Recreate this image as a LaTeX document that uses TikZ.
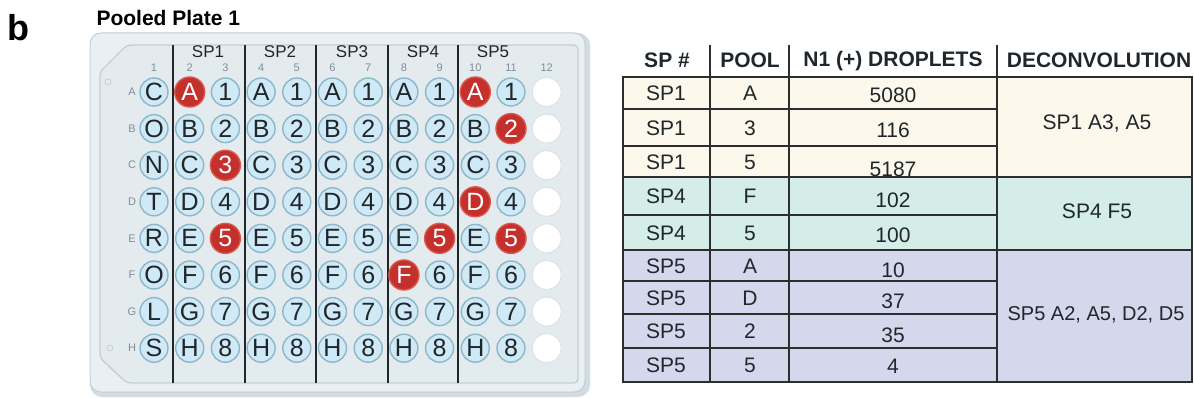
\documentclass[tikz,border=0pt]{standalone}
\usepackage{fontspec}
\setmainfont{Liberation Sans}
\usetikzlibrary{positioning}

\definecolor{wellblue}{HTML}{CFE9F6}
\definecolor{wellrim}{HTML}{8DB7C9}
\definecolor{hitred}{HTML}{C4302B}
\definecolor{hitrim}{HTML}{D9574C}
\definecolor{platefill}{HTML}{E9EFF2}
\definecolor{plateedge}{HTML}{C3CFD6}
\definecolor{plateshade}{HTML}{D2DDE3}
\definecolor{framefill}{HTML}{E4EBEF}
\definecolor{labgray}{HTML}{7F8E96}
\definecolor{inkdark}{HTML}{1F272B}
\definecolor{spone}{HTML}{FCF8EC}
\definecolor{spfour}{HTML}{D4EDE8}
\definecolor{spfive}{HTML}{D3D8EC}
\definecolor{gridline}{HTML}{2E2E2E}

\begin{document}
\begin{tikzpicture}[
    x=1pt, y=-1pt,
    well/.style={circle, draw=wellrim, line width=1.4pt, fill=wellblue, minimum size=28pt, inner sep=0pt, text=inkdark, font=\fontsize{25}{25}\selectfont},
    hitwell/.style={draw=hitrim, fill=hitred, text=white, minimum size=30pt},
    emptywell/.style={circle, draw=plateedge!60, line width=1pt, fill=white, minimum size=29pt, inner sep=0pt},
    collab/.style={text=labgray, font=\fontsize{11}{11}\selectfont},
    rowlab/.style={text=labgray, font=\fontsize{11}{11}\selectfont},
    splab/.style={text=inkdark, font=\fontsize{17}{17}\selectfont},
    divider/.style={draw=inkdark, line width=1.6pt},
    head/.style={text=inkdark, font=\bfseries\fontsize{21}{21}\selectfont},
    cell/.style={text=inkdark, font=\fontsize{21}{21}\selectfont},
    grid/.style={draw=gridline, line width=2pt},
    % wells that came up positive
    hitA2/.style={hitwell}, hitC3/.style={hitwell}, hitE3/.style={hitwell},
    hitA10/.style={hitwell}, hitB11/.style={hitwell}, hitD10/.style={hitwell},
    hitE9/.style={hitwell}, hitE11/.style={hitwell}, hitF8/.style={hitwell}
]
    \useasboundingbox (0,0) rectangle (1194,398);

    % Titles
    \node[font=\bfseries\fontsize{36}{36}\selectfont] (panel) at (18,28) {b};
    \node[font=\bfseries\fontsize{21}{21}\selectfont, anchor=west] (title) at (93,18) {Pooled Plate 1};

    % Plate body
    \fill[plateshade, rounded corners=12] (90,33) rectangle (590,397);
    \draw[plateedge, fill=platefill, line width=1pt, rounded corners=11] (90,33) rectangle (585,392);
    \draw[plateedge, fill=framefill, line width=1.4pt, rounded corners=4]
        (127,45) -- (578,45) -- (578,383) -- (127,383) -- (100,358) -- (100,72) -- cycle;
    \draw[plateedge, line width=0.8pt] (108,82) circle (3) (110,348) circle (3);

    % Dividers between sub-pools
    \foreach \x in {173,245,316,388,458}
        \draw[divider] (\x,45) -- (\x,383);

    % Column labels
    \foreach \i/\x in {1/208,2/280,3/352,4/423,5/493}
        \node[splab] (sp\i) at (\x,52) {SP\i};
    \foreach \c in {1,...,12}
        \node[collab] (col\c) at ({154+(\c-1)*35.7},68) {\c};

    % Wells
    \foreach \r/\rl/\cl in {1/A/C,2/B/O,3/C/N,4/D/T,5/E/R,6/F/O,7/G/L,8/H/S}{
        \node[rowlab] (row\rl) at (132,{92+(\r-1)*36.6}) {\rl};
        \node[well] (w\rl1) at (154,{92+(\r-1)*36.6}) {\cl};
        \foreach \c in {2,4,...,10}
            \node[well, hit\rl\c/.try] (w\rl\c) at ({154+(\c-1)*35.7},{92+(\r-1)*36.6}) {\rl};
        \foreach \c in {3,5,...,11}
            \node[well, hit\rl\c/.try] (w\rl\c) at ({154+(\c-1)*35.7},{92+(\r-1)*36.6}) {\r};
        \node[emptywell] (w\rl12) at (546.7,{92+(\r-1)*36.6}) {};
    }

    % Table fills
    \fill[spone] (623,77) rectangle (1192,177);
    \fill[spfour] (623,177) rectangle (1192,250);
    \fill[spfive] (623,250) rectangle (1192,382);

    % Table lines
    \foreach \y in {109,146,215,281,314,348}
        \draw[grid] (623,\y) -- (997,\y);
    \foreach \y in {77,177,250,382}
        \draw[grid, line width=2.4pt] (622,\y) -- (1193,\y);
    \foreach \x in {710,789,997}
        \draw[grid] (\x,45) -- (\x,382);
    \draw[grid] (623,77) -- (623,382);
    \draw[grid] (1192,77) -- (1192,382);

    % Header
    \node[head] (hsp) at (667,60) {SP \#};
    \node[head] (hpool) at (750,60) {POOL};
    \node[head] (hdrop) at (893,61) {N1 (+) DROPLETS};
    \node[head] (hdeconv) at (1099,60) {DECONVOLUTION};

    % Rows
    \foreach \i/\sp/\pool/\n/\y/\dy in {1/SP1/A/5080/93/2, 2/SP1/3/116/128/2, 3/SP1/5/5187/162/7,
        4/SP4/F/102/196/4, 5/SP4/5/100/233/2, 6/SP5/A/10/266/4, 7/SP5/D/37/298/3,
        8/SP5/2/35/331/4, 9/SP5/5/4/365/1}{
        \node[cell] (sp-\i) at (666,\y) {\sp};
        \node[cell] (pool-\i) at (750,\y) {\pool};
        \node[cell] (n-\i) at (893,\y+\dy) {\n};
    }

    % Deconvolution
    \node[cell] (dec1) at (1097,124) {SP1 A3, A5};
    \node[cell] (dec4) at (1097,211) {SP4 F5};
    \node[cell, font=\fontsize{20}{20}\selectfont] (dec5) at (1096,315) {SP5 A2, A5, D2, D5};
\end{tikzpicture}
\end{document}
